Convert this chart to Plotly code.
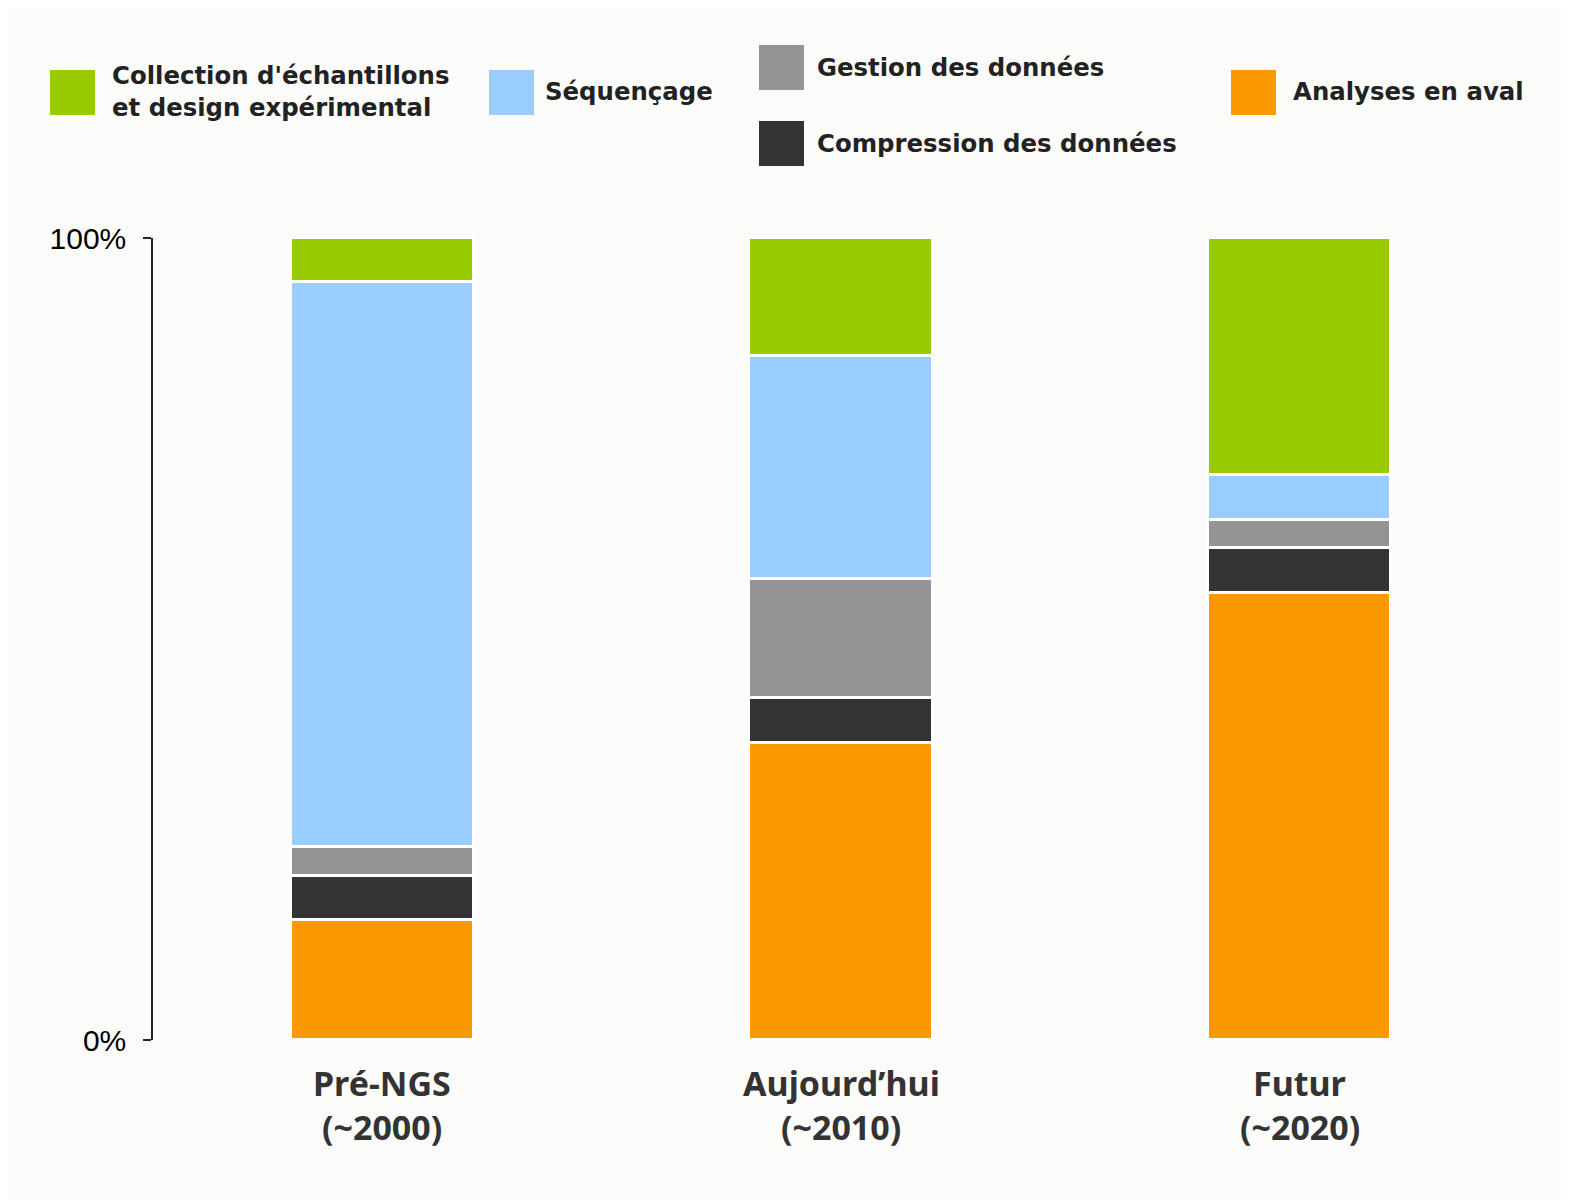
import plotly.graph_objects as go

# ---- data ----
categories = ["Pré-NGS", "Aujourd’hui", "Futur"]
periods = ["(~2000)", "(~2010)", "(~2020)"]
series_names = ["Analyses en aval", "Compression des données", "Gestion des données",
                "Séquençage", "Collection d'échantillons<br>et design expérimental"]
series_colors = ["#fa9a00", "#333333", "#949494", "#99ccff", "#99cc00"]
analyses = [15.0, 37.0, 55.7]
compression = [5.5, 5.7, 5.6]
gestion = [3.6, 14.8, 3.5]
sequencage = [70.4, 27.8, 5.7]
collection = [5.5, 14.7, 29.5]
series_values = [analyses, compression, gestion, sequencage, collection]
y_tick_vals = [0, 100]
y_tick_text = ["0%", "100%"]

W, H = 1569, 1200
OFF = 8  # page body margin
L, R, T, B = 153 - OFF, 40 + OFF, 238 - OFF, 160 + OFF
PW, PH = W - L - R, H - T - B
BG = "#fbfcfa"

def px(x):
    return (x - OFF - L) / PW

def py(y):
    return (H - B - (y - OFF)) / PH

xpos = list(range(len(categories)))

fig = go.Figure()
for name, color, vals in zip(series_names, series_colors, series_values):
    fig.add_trace(go.Bar(
        x=xpos, y=vals, name=name, width=0.40,
        marker=dict(color=color, line=dict(color="#ffffff", width=3)),
        showlegend=False, hoverinfo="name+y",
    ))

# custom legend (boxes + labels), positions in target-page pixels
legend_items = [
    (4, 50, 70, 110, 92),
    (3, 489, 70, 543, 92),
    (2, 759, 45, 815, 67),
    (1, 759, 121, 815, 143),
    (0, 1231, 70, 1291, 92),
]
for idx, bx, by, tx, ty in legend_items:
    fig.add_shape(type="rect", xref="paper", yref="paper",
                  x0=px(bx), x1=px(bx + 45), y0=py(by + 45), y1=py(by),
                  fillcolor=series_colors[idx], line=dict(width=0))
    fig.add_annotation(xref="paper", yref="paper", x=px(tx), y=py(ty),
                       text=series_names[idx], showarrow=False,
                       xanchor="left", yanchor="middle", align="left",
                       font=dict(family="DejaVu Sans", size=24.4, weight="bold",
                                 color="#222222"))

# category labels (two lines)
for i, (c, p) in enumerate(zip(categories, periods)):
    fig.add_annotation(x=i, xref="x", yref="paper", y=py(1083), text=f"<b>{c}</b>",
                       showarrow=False, yanchor="middle",
                       font=dict(family="Noto Sans", size=34, color="#333333"))
    fig.add_annotation(x=i, xref="x", yref="paper", y=py(1127), text=f"<b>{p}</b>",
                       showarrow=False, yanchor="middle",
                       font=dict(family="Noto Sans", size=34, color="#333333"))

fig.update_layout(
    width=W, height=H, barmode="stack", bargap=0,
    paper_bgcolor=BG, plot_bgcolor=BG,
    margin=dict(l=L, r=R, t=T, b=B, autoexpand=False),
    xaxis=dict(range=[-0.5, 2.5], showticklabels=False, showgrid=False,
               zeroline=False, showline=False, ticks=""),
    yaxis=dict(range=[0, 100], tickvals=y_tick_vals, ticktext=y_tick_text,
               showgrid=False, zeroline=False, showline=True, linecolor="#222222",
               linewidth=1.5, ticks="outside", ticklen=8, tickcolor="#222222",
               tickwidth=1.5, ticklabelstandoff=11,
               tickfont=dict(family="Liberation Sans", size=30, color="#000000")),
)

fig.write_html("out.html")
